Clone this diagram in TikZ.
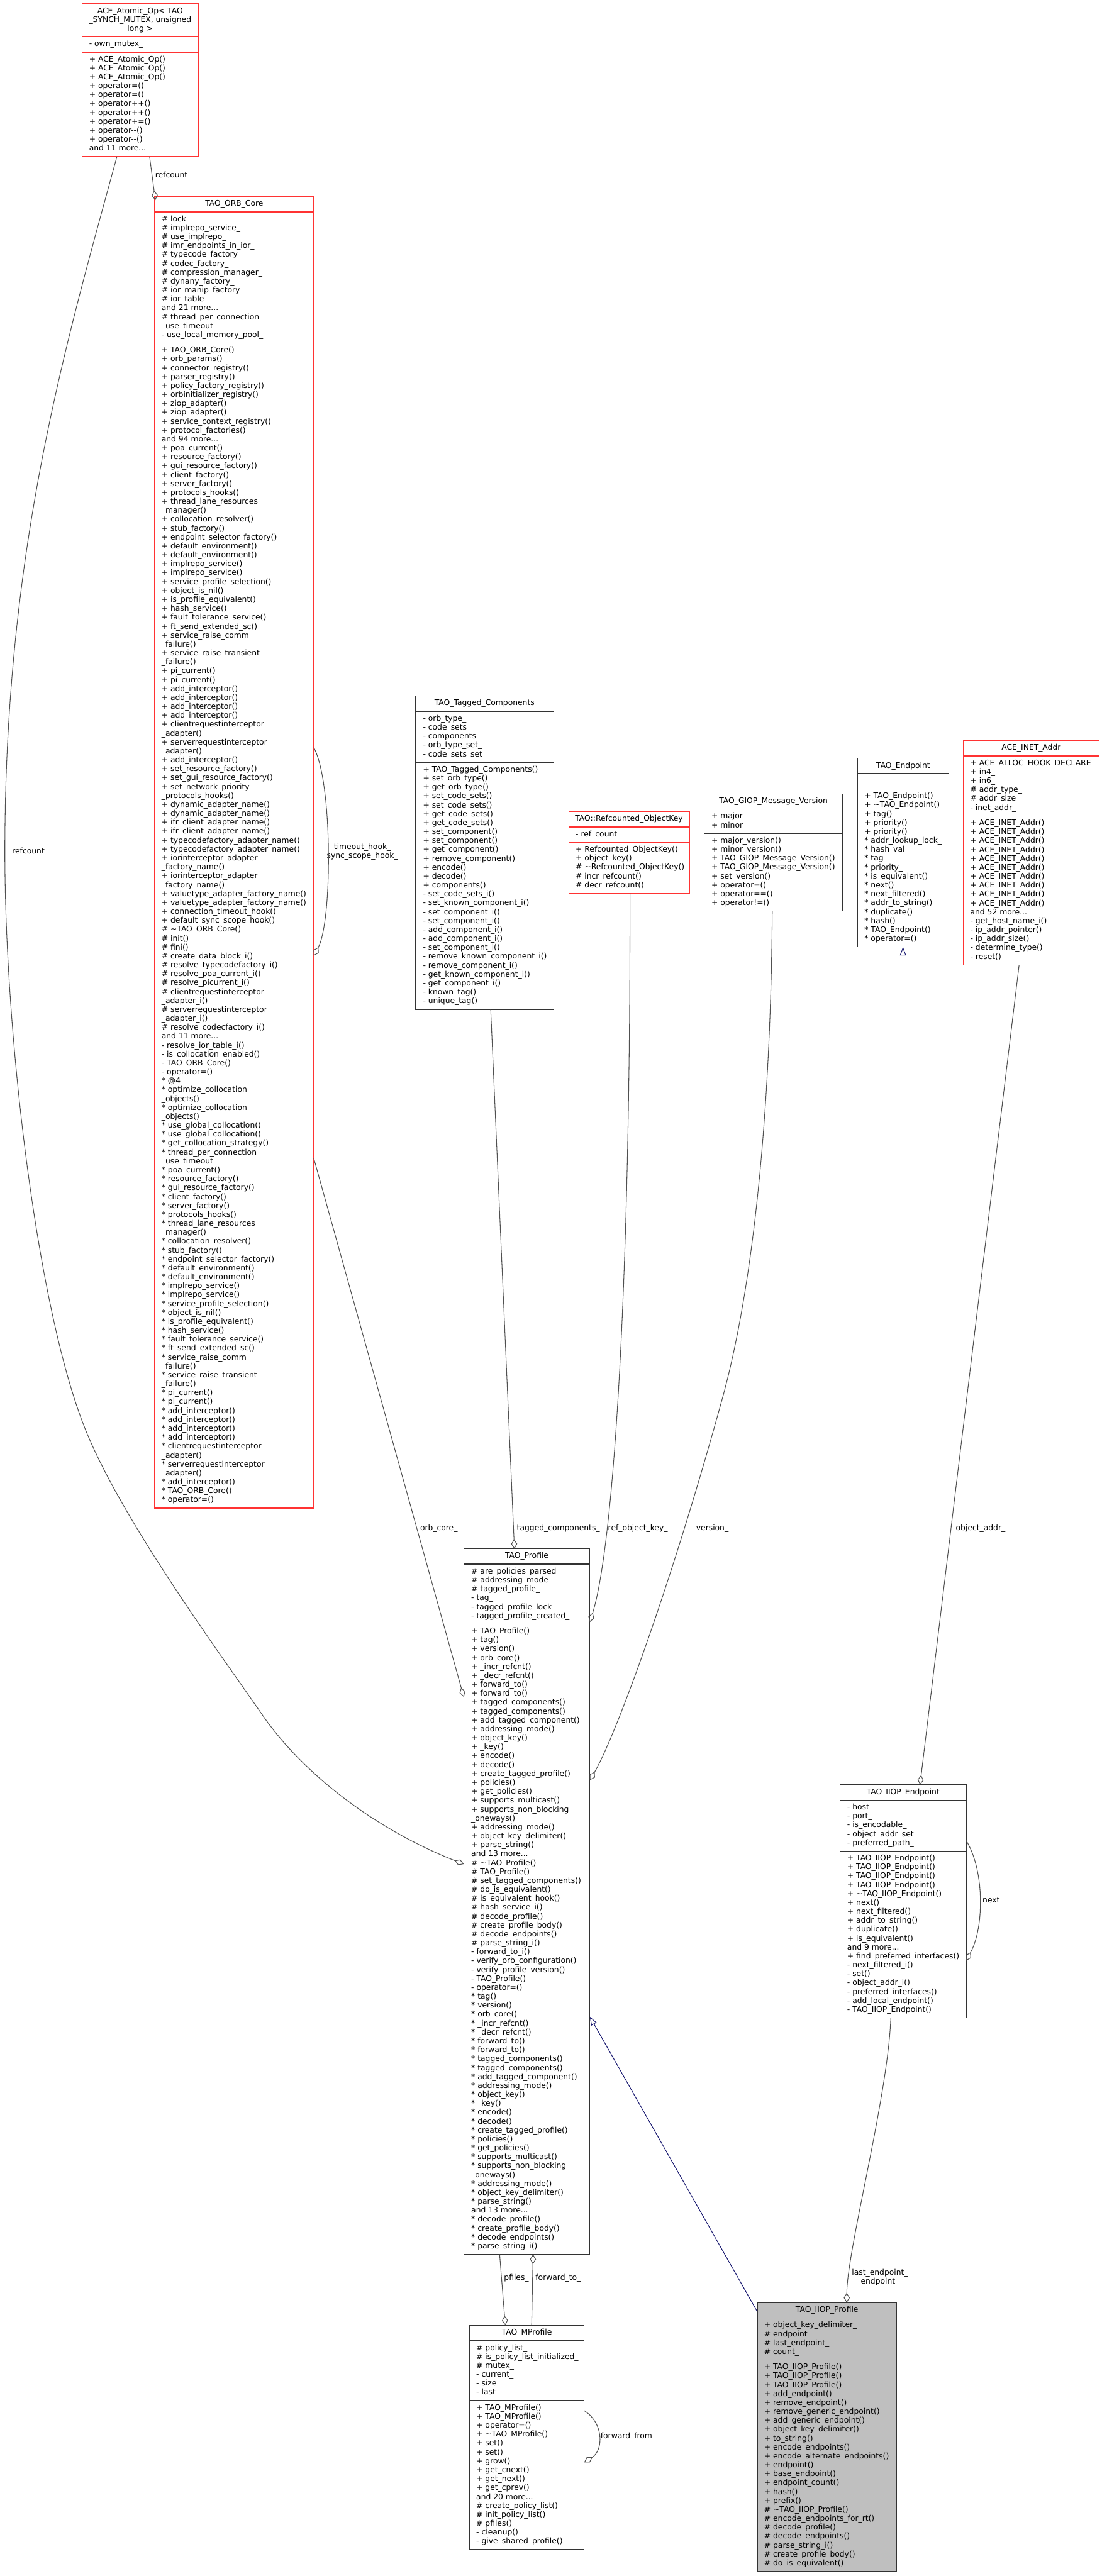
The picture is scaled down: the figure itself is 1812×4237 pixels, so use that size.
\documentclass[tikz,border=0pt]{standalone}
\usepackage{fontspec}
\newfontfamily\dv{DejaVu Sans}
\usetikzlibrary{arrows.meta,calc}
\definecolor{boxred}{HTML}{FF3333}
\definecolor{boxblk}{HTML}{333333}
\definecolor{boxgray}{HTML}{BFBFBF}
\definecolor{edgegray}{HTML}{505050}
\definecolor{inhblue}{HTML}{191970}
\newcommand\boxfont{\dv\fontsize{12.75}{14.66}\selectfont}
\newcommand\mylines[1]{\begin{tabular}{@{}l@{}}#1\end{tabular}}
\newcommand\myclines[1]{\begin{tabular}{@{}c@{}}#1\end{tabular}}
\tikzset{
  redbox/.style={draw=boxred, line width=1.4pt, fill=white},
  blkbox/.style={draw=boxblk, line width=1.4pt, fill=white},
  graybox/.style={draw=boxblk, line width=1.4pt, fill=boxgray},
  redbox-div/.style={draw=boxred, line width=1.4pt},
  blkbox-div/.style={draw=boxblk, line width=1.4pt},
  graybox-div/.style={draw=boxblk, line width=1.4pt},
  txt/.style={inner sep=0pt, outer sep=0pt, anchor=north west, font=\boxfont},
  ttl/.style={inner sep=0pt, outer sep=0pt, anchor=north, font=\boxfont},
  lbl/.style={inner sep=0pt, outer sep=0pt, font=\boxfont},
  conn/.style={draw=edgegray, line width=1.1pt},
  diam/.style={conn, {Diamond[open,length=16pt,width=10pt]}-},
  inh/.style={draw=inhblue, line width=1.1pt, -{Triangle[open,length=14pt,width=10pt]}},
}
\newcommand\ubox[7]{%
  \node[#2, anchor=north west, inner sep=0pt, outer sep=0pt, minimum width={(#5)-(#3)}, minimum height={(#6)-(#4)}] (#1) at (#3,#4) {};
  \foreach \dy in {#7} {\draw[#2-div] (#3,\dy) -- (#5,\dy);}%
}
\begin{document}
\begin{tikzpicture}[x=1pt,y=-1pt]
\useasboundingbox (0,0) rectangle (1812,4237);
\fill[white] (0,0) rectangle (1812,4237);

% ---------- edge labels ----------
\node[lbl, anchor=west] (l-rc1) at (255.3,289.3) {refcount\_};
\node[lbl, anchor=west] (l-rc2) at (20,1401) {refcount\_};
\node[lbl] (l-th) at (596,1401) {\myclines{timeout\_hook\_\\sync\_scope\_hook\_}};
\node[lbl, anchor=west] (l-oc) at (691,2514) {orb\_core\_};
\node[lbl, anchor=west] (l-tc) at (850,2514) {tagged\_components\_};
\node[lbl, anchor=west] (l-rok) at (1000,2514) {ref\_object\_key\_};
\node[lbl, anchor=west] (l-ver) at (1145,2514) {version\_};
\node[lbl, anchor=west] (l-oa) at (1572,2514) {object\_addr\_};
\node[lbl, anchor=west] (l-next) at (1616,3126.5) {next\_};
\node[lbl, anchor=west] (l-ep) at (1401,3746) {\myclines{last\_endpoint\_\\endpoint\_}};
\node[lbl, anchor=west] (l-pf) at (829,3746.7) {pfiles\_};
\node[lbl, anchor=west] (l-ft) at (880.7,3746.7) {forward\_to\_};
\node[lbl, anchor=west] (l-ff) at (987.7,4008) {forward\_from\_};

% ---------- boxes ----------
\ubox{ace}{redbox}{135}{6}{326}{257.5}{60.5,85.7}
\node[ttl] (ace-t) at (230.5,11.5) {\myclines{ACE\_Atomic\_Op< TAO\\\_SYNCH\_MUTEX, unsigned\\long >}};
\node[txt] (ace-a) at (146.7,66) {\mylines{- own\_mutex\_}};
\node[txt] (ace-m) at (146.7,91.2) {\mylines{+ ACE\_Atomic\_Op()\\+ ACE\_Atomic\_Op()\\+ ACE\_Atomic\_Op()\\+ operator=()\\+ operator=()\\+ operator++()\\+ operator++()\\+ operator+=()\\+ operator-{}-()\\+ operator-{}-()\\and 11 more...}};

\ubox{orb}{redbox}{254.5}{323.3}{516}{2480.5}{348.5,564.2}
\node[ttl] (orb-t) at (385.25,328.8) {\mylines{TAO\_ORB\_Core}};
\node[txt] (orb-a) at (265.7,354) {\mylines{\# lock\_\\\# implrepo\_service\_\\\# use\_implrepo\_\\\# imr\_endpoints\_in\_ior\_\\\# typecode\_factory\_\\\# codec\_factory\_\\\# compression\_manager\_\\\# dynany\_factory\_\\\# ior\_manip\_factory\_\\\# ior\_table\_\\and 21 more...\\\# thread\_per\_connection\\\_use\_timeout\_\\- use\_local\_memory\_pool\_}};
\node[txt] (orb-m) at (265.7,569.7) {\mylines{+ TAO\_ORB\_Core()\\+ orb\_params()\\+ connector\_registry()\\+ parser\_registry()\\+ policy\_factory\_registry()\\+ orbinitializer\_registry()\\+ ziop\_adapter()\\+ ziop\_adapter()\\+ service\_context\_registry()\\+ protocol\_factories()\\and 94 more...\\+ poa\_current()\\+ resource\_factory()\\+ gui\_resource\_factory()\\+ client\_factory()\\+ server\_factory()\\+ protocols\_hooks()\\+ thread\_lane\_resources\\\_manager()\\+ collocation\_resolver()\\+ stub\_factory()\\+ endpoint\_selector\_factory()\\+ default\_environment()\\+ default\_environment()\\+ implrepo\_service()\\+ implrepo\_service()\\+ service\_profile\_selection()\\+ object\_is\_nil()\\+ is\_profile\_equivalent()\\+ hash\_service()\\+ fault\_tolerance\_service()\\+ ft\_send\_extended\_sc()\\+ service\_raise\_comm\\\_failure()\\+ service\_raise\_transient\\\_failure()\\+ pi\_current()\\+ pi\_current()\\+ add\_interceptor()\\+ add\_interceptor()\\+ add\_interceptor()\\+ add\_interceptor()\\+ clientrequestinterceptor\\\_adapter()\\+ serverrequestinterceptor\\\_adapter()\\+ add\_interceptor()\\+ set\_resource\_factory()\\+ set\_gui\_resource\_factory()\\+ set\_network\_priority\\\_protocols\_hooks()\\+ dynamic\_adapter\_name()\\+ dynamic\_adapter\_name()\\+ ifr\_client\_adapter\_name()\\+ ifr\_client\_adapter\_name()\\+ typecodefactory\_adapter\_name()\\+ typecodefactory\_adapter\_name()\\+ iorinterceptor\_adapter\\\_factory\_name()\\+ iorinterceptor\_adapter\\\_factory\_name()\\+ valuetype\_adapter\_factory\_name()\\+ valuetype\_adapter\_factory\_name()\\+ connection\_timeout\_hook()\\+ default\_sync\_scope\_hook()\\\# \textasciitilde TAO\_ORB\_Core()\\\# init()\\\# fini()\\\# create\_data\_block\_i()\\\# resolve\_typecodefactory\_i()\\\# resolve\_poa\_current\_i()\\\# resolve\_picurrent\_i()\\\# clientrequestinterceptor\\\_adapter\_i()\\\# serverrequestinterceptor\\\_adapter\_i()\\\# resolve\_codecfactory\_i()\\and 11 more...\\- resolve\_ior\_table\_i()\\- is\_collocation\_enabled()\\- TAO\_ORB\_Core()\\- operator=()\\{}* @4\\{}* optimize\_collocation\\\_objects()\\{}* optimize\_collocation\\\_objects()\\{}* use\_global\_collocation()\\{}* use\_global\_collocation()\\{}* get\_collocation\_strategy()\\{}* thread\_per\_connection\\\_use\_timeout\_\\{}* poa\_current()\\{}* resource\_factory()\\{}* gui\_resource\_factory()\\{}* client\_factory()\\{}* server\_factory()\\{}* protocols\_hooks()\\{}* thread\_lane\_resources\\\_manager()\\{}* collocation\_resolver()\\{}* stub\_factory()\\{}* endpoint\_selector\_factory()\\{}* default\_environment()\\{}* default\_environment()\\{}* implrepo\_service()\\{}* implrepo\_service()\\{}* service\_profile\_selection()\\{}* object\_is\_nil()\\{}* is\_profile\_equivalent()\\{}* hash\_service()\\{}* fault\_tolerance\_service()\\{}* ft\_send\_extended\_sc()\\{}* service\_raise\_comm\\\_failure()\\{}* service\_raise\_transient\\\_failure()\\{}* pi\_current()\\{}* pi\_current()\\{}* add\_interceptor()\\{}* add\_interceptor()\\{}* add\_interceptor()\\{}* add\_interceptor()\\{}* clientrequestinterceptor\\\_adapter()\\{}* serverrequestinterceptor\\\_adapter()\\{}* add\_interceptor()\\{}* TAO\_ORB\_Core()\\{}* operator=()}};

\ubox{tagged}{blkbox}{683}{1144.8}{910.7}{1660.1}{1170,1253.8}
\node[ttl] (tagged-t) at (796.85,1150.3) {\mylines{TAO\_Tagged\_Components}};
\node[txt] (tagged-a) at (695.7,1175.5) {\mylines{- orb\_type\_\\- code\_sets\_\\- components\_\\- orb\_type\_set\_\\- code\_sets\_set\_}};
\node[txt] (tagged-m) at (695.7,1259.3) {\mylines{+ TAO\_Tagged\_Components()\\+ set\_orb\_type()\\+ get\_orb\_type()\\+ set\_code\_sets()\\+ set\_code\_sets()\\+ get\_code\_sets()\\+ get\_code\_sets()\\+ set\_component()\\+ set\_component()\\+ get\_component()\\+ remove\_component()\\+ encode()\\+ decode()\\+ components()\\- set\_code\_sets\_i()\\- set\_known\_component\_i()\\- set\_component\_i()\\- set\_component\_i()\\- add\_component\_i()\\- add\_component\_i()\\- set\_component\_i()\\- remove\_known\_component\_i()\\- remove\_component\_i()\\- get\_known\_component\_i()\\- get\_component\_i()\\- known\_tag()\\- unique\_tag()}};

\ubox{refc}{redbox}{935.3}{1335}{1133.7}{1469.2}{1360.2,1385.4}
\node[ttl] (refc-t) at (1034.5,1340.5) {\mylines{TAO::Refcounted\_ObjectKey}};
\node[txt] (refc-a) at (946.7,1365.7) {\mylines{- ref\_count\_}};
\node[txt] (refc-m) at (946.7,1390.9) {\mylines{+ Refcounted\_ObjectKey()\\+ object\_key()\\\# \textasciitilde Refcounted\_ObjectKey()\\\# incr\_refcount()\\\# decr\_refcount()}};

\ubox{giop}{blkbox}{1158}{1305.7}{1386}{1498.5}{1330.9,1370.7}
\node[ttl] (giop-t) at (1272,1311.2) {\mylines{TAO\_GIOP\_Message\_Version}};
\node[txt] (giop-a) at (1170,1336.4) {\mylines{+ major\\+ minor}};
\node[txt] (giop-m) at (1170,1376.2) {\mylines{+ major\_version()\\+ minor\_version()\\+ TAO\_GIOP\_Message\_Version()\\+ TAO\_GIOP\_Message\_Version()\\+ set\_version()\\+ operator=()\\+ operator==()\\+ operator!=()}};

\ubox{endp}{blkbox}{1410}{1247.3}{1560.7}{1557.4}{1272.5,1297.7}
\node[ttl] (endp-t) at (1485.35,1252.8) {\mylines{TAO\_Endpoint}};
\node[txt] (endp-m) at (1421.7,1303.2) {\mylines{+ TAO\_Endpoint()\\+ \textasciitilde TAO\_Endpoint()\\+ tag()\\+ priority()\\+ priority()\\{}* addr\_lookup\_lock\_\\{}* hash\_val\_\\{}* tag\_\\{}* priority\_\\{}* is\_equivalent()\\{}* next()\\{}* next\_filtered()\\{}* addr\_to\_string()\\{}* duplicate()\\{}* hash()\\{}* TAO\_Endpoint()\\{}* operator=()}};

\ubox{inet}{redbox}{1584.3}{1218.2}{1807.3}{1587}{1243.4,1341.9}
\node[ttl] (inet-t) at (1695.8,1223.7) {\mylines{ACE\_INET\_Addr}};
\node[txt] (inet-a) at (1595.7,1248.9) {\mylines{+ ACE\_ALLOC\_HOOK\_DECLARE\\+ in4\_\\+ in6\_\\\# addr\_type\_\\\# addr\_size\_\\- inet\_addr\_}};
\node[txt] (inet-m) at (1595.7,1347.4) {\mylines{+ ACE\_INET\_Addr()\\+ ACE\_INET\_Addr()\\+ ACE\_INET\_Addr()\\+ ACE\_INET\_Addr()\\+ ACE\_INET\_Addr()\\+ ACE\_INET\_Addr()\\+ ACE\_INET\_Addr()\\+ ACE\_INET\_Addr()\\+ ACE\_INET\_Addr()\\+ ACE\_INET\_Addr()\\and 52 more...\\- get\_host\_name\_i()\\- ip\_addr\_pointer()\\- ip\_addr\_size()\\- determine\_type()\\- reset()}};

\ubox{prof}{blkbox}{762.7}{2547.5}{970}{3708}{2572.7,2671.2}
\node[ttl] (prof-t) at (866.35,2553) {\mylines{TAO\_Profile}};
\node[txt] (prof-a) at (775,2578.2) {\mylines{\# are\_policies\_parsed\_\\\# addressing\_mode\_\\\# tagged\_profile\_\\- tag\_\\- tagged\_profile\_lock\_\\- tagged\_profile\_created\_}};
\node[txt] (prof-m) at (775,2676.7) {\mylines{+ TAO\_Profile()\\+ tag()\\+ version()\\+ orb\_core()\\+ \_incr\_refcnt()\\+ \_decr\_refcnt()\\+ forward\_to()\\+ forward\_to()\\+ tagged\_components()\\+ tagged\_components()\\+ add\_tagged\_component()\\+ addressing\_mode()\\+ object\_key()\\+ \_key()\\+ encode()\\+ decode()\\+ create\_tagged\_profile()\\+ policies()\\+ get\_policies()\\+ supports\_multicast()\\+ supports\_non\_blocking\\\_oneways()\\+ addressing\_mode()\\+ object\_key\_delimiter()\\+ parse\_string()\\and 13 more...\\\# \textasciitilde TAO\_Profile()\\\# TAO\_Profile()\\\# set\_tagged\_components()\\\# do\_is\_equivalent()\\\# is\_equivalent\_hook()\\\# hash\_service\_i()\\\# decode\_profile()\\\# create\_profile\_body()\\\# decode\_endpoints()\\\# parse\_string\_i()\\- forward\_to\_i()\\- verify\_orb\_configuration()\\- verify\_profile\_version()\\- TAO\_Profile()\\- operator=()\\{}* tag()\\{}* version()\\{}* orb\_core()\\{}* \_incr\_refcnt()\\{}* \_decr\_refcnt()\\{}* forward\_to()\\{}* forward\_to()\\{}* tagged\_components()\\{}* tagged\_components()\\{}* add\_tagged\_component()\\{}* addressing\_mode()\\{}* object\_key()\\{}* \_key()\\{}* encode()\\{}* decode()\\{}* create\_tagged\_profile()\\{}* policies()\\{}* get\_policies()\\{}* supports\_multicast()\\{}* supports\_non\_blocking\\\_oneways()\\{}* addressing\_mode()\\{}* object\_key\_delimiter()\\{}* parse\_string()\\and 13 more...\\{}* decode\_profile()\\{}* create\_profile\_body()\\{}* decode\_endpoints()\\{}* parse\_string\_i()}};

\ubox{iiope}{blkbox}{1381.7}{2935.6}{1588.7}{3319}{2960.8,3044.6}
\node[ttl] (iiope-t) at (1485.2,2941.1) {\mylines{TAO\_IIOP\_Endpoint}};
\node[txt] (iiope-a) at (1393.3,2966.3) {\mylines{- host\_\\- port\_\\- is\_encodable\_\\- object\_addr\_set\_\\- preferred\_path\_}};
\node[txt] (iiope-m) at (1393.3,3050.1) {\mylines{+ TAO\_IIOP\_Endpoint()\\+ TAO\_IIOP\_Endpoint()\\+ TAO\_IIOP\_Endpoint()\\+ TAO\_IIOP\_Endpoint()\\+ \textasciitilde TAO\_IIOP\_Endpoint()\\+ next()\\+ next\_filtered()\\+ addr\_to\_string()\\+ duplicate()\\+ is\_equivalent()\\and 9 more...\\+ find\_preferred\_interfaces()\\- next\_filtered\_i()\\- set()\\- object\_addr\_i()\\- preferred\_interfaces()\\- add\_local\_endpoint()\\- TAO\_IIOP\_Endpoint()}};

\ubox{mprof}{blkbox}{772.3}{3824.7}{960.7}{4193.5}{3849.9,3948.4}
\node[ttl] (mprof-t) at (866.5,3830.2) {\mylines{TAO\_MProfile}};
\node[txt] (mprof-a) at (783.3,3855.4) {\mylines{\# policy\_list\_\\\# is\_policy\_list\_initialized\_\\\# mutex\_\\- current\_\\- size\_\\- last\_}};
\node[txt] (mprof-m) at (783.3,3953.9) {\mylines{+ TAO\_MProfile()\\+ TAO\_MProfile()\\+ operator=()\\+ \textasciitilde TAO\_MProfile()\\+ set()\\+ set()\\+ grow()\\+ get\_cnext()\\+ get\_next()\\+ get\_cprev()\\and 20 more...\\\# create\_policy\_list()\\\# init\_policy\_list()\\\# pfiles()\\- cleanup()\\- give\_shared\_profile()}};

\ubox{iiopp}{graybox}{1245.3}{3787.3}{1474.7}{4229.3}{3812.5,3881.6}
\node[ttl] (iiopp-t) at (1360,3792.8) {\mylines{TAO\_IIOP\_Profile}};
\node[txt] (iiopp-a) at (1256.7,3818) {\mylines{+ object\_key\_delimiter\_\\\# endpoint\_\\\# last\_endpoint\_\\\# count\_}};
\node[txt] (iiopp-m) at (1256.7,3887.1) {\mylines{+ TAO\_IIOP\_Profile()\\+ TAO\_IIOP\_Profile()\\+ TAO\_IIOP\_Profile()\\+ add\_endpoint()\\+ remove\_endpoint()\\+ remove\_generic\_endpoint()\\+ add\_generic\_endpoint()\\+ object\_key\_delimiter()\\+ to\_string()\\+ encode\_endpoints()\\+ encode\_alternate\_endpoints()\\+ endpoint()\\+ base\_endpoint()\\+ endpoint\_count()\\+ hash()\\+ prefix()\\\# \textasciitilde TAO\_IIOP\_Profile()\\\# encode\_endpoints\_for\_rt()\\\# decode\_profile()\\\# decode\_endpoints()\\\# parse\_string\_i()\\\# create\_profile\_body()\\\# do\_is\_equivalent()}};

% ---------- connectors ----------
\draw[diam] ($(orb.north west)+(1,6)$) -- (ace.south -| 246,0);
\draw[diam] (prof.west |- 0,3066) .. controls (620,3010) and (500,2920) .. (431,2820) .. controls (362,2720) and (200,2500) .. (140,2350) .. controls (60,2150) and (8,1700) .. (8,1401) .. controls (8,900) and (110,560) .. (ace.south -| 192.3,0);
\draw[diam] (orb.east |- 0,1572) .. controls (547,1515) and (547,1285) .. (orb.east |- 0,1229.6);
\draw[diam] (prof.west |- 0,2791) -- (orb.east |- 0,1905);
\draw[diam] (prof.north -| 846,0) -- (tagged.south -| 807,0);
\draw[diam] (prof.east |- 0,2668) .. controls (1010,2540) and (1037,2100) .. (refc.south -| 1036,0);
\draw[diam] (prof.east |- 0,2928) .. controls (1010,2860) and (1100,2620) .. (1188,2300) .. controls (1243,2100) and (1268,1800) .. (giop.south -| 1270,0);
\draw[diam] (iiope.north -| 1513,0) -- (inet.south -| 1676,0);
\draw[inh] (iiope.north -| 1485,0) -- (endp.south -| 1485,0);
\draw[diam] (iiope.east |- 0,3225) .. controls (1619,3170) and (1619,3075) .. (iiope.east |- 0,3027);
\draw[diam] (iiopp.north -| 1392.5,0) .. controls (1393,3700) and (1460,3450) .. (iiope.south -| 1465,0);
\draw[inh] (iiopp.west |- 0,3802) -- (prof.east |- 0,3317);
\draw[diam] (mprof.north -| 831,0) -- (prof.south -| 821.7,0);
\draw[diam] (prof.south -| 876.7,0) -- (mprof.north -| 874.3,0);
\draw[diam] (mprof.east |- 0,4050) .. controls (993,4030) and (993,3985) .. (mprof.east |- 0,3965);
\end{tikzpicture}
\end{document}
